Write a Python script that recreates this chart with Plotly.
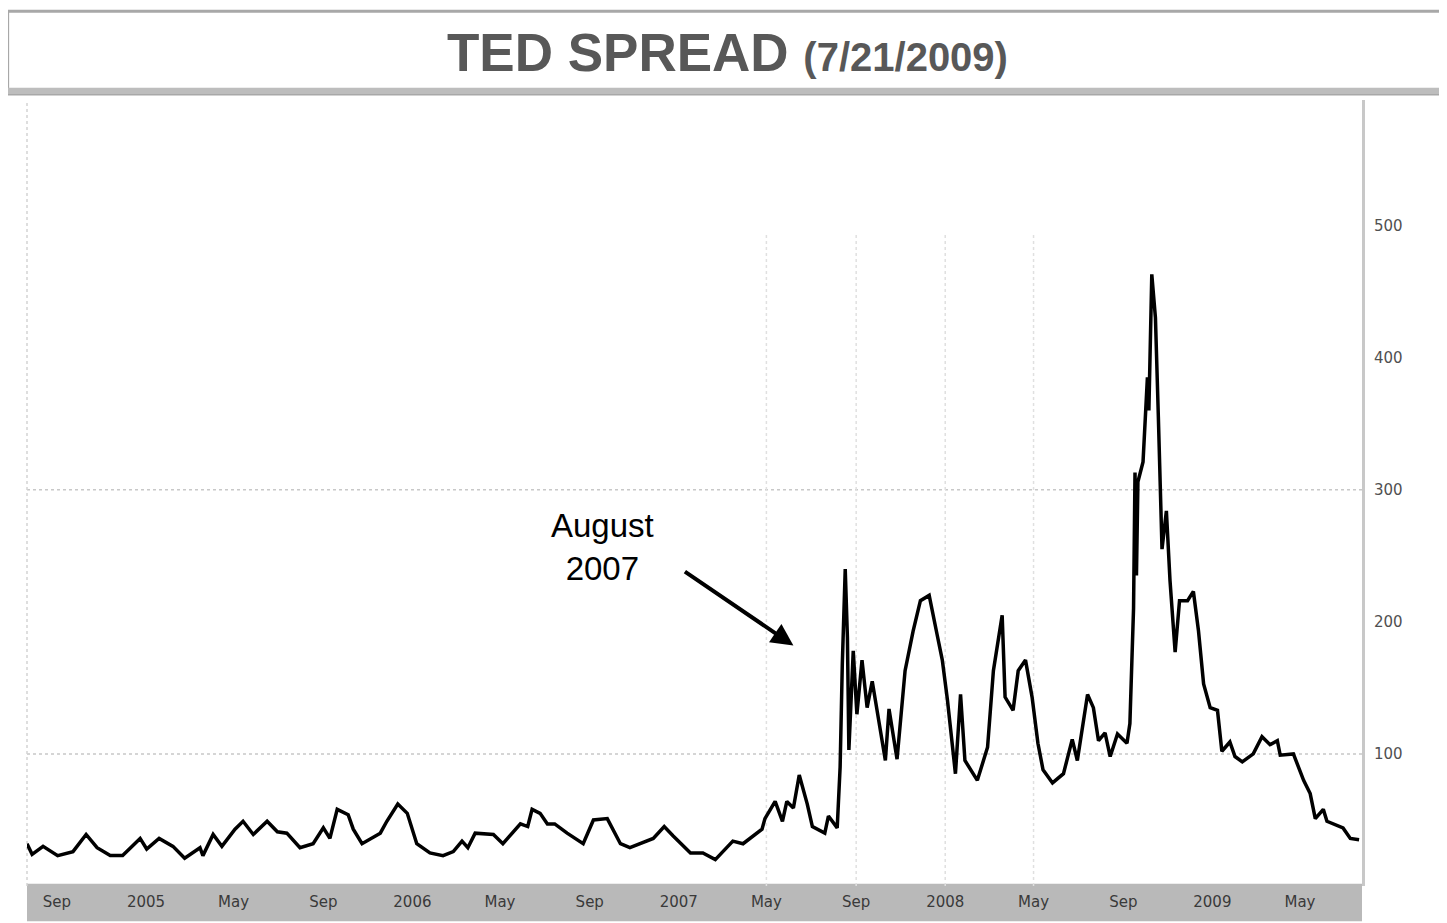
import plotly.graph_objects as go

# TED spread (basis points)
dates = [
    "2004-07-22", "2004-07-29", "2004-08-13", "2004-09-02", "2004-09-23", "2004-10-11",
    "2004-10-26", "2004-11-13", "2004-11-30", "2004-12-24", "2005-01-02", "2005-01-19",
    "2005-02-07", "2005-02-23", "2005-03-16", "2005-03-20", "2005-04-03", "2005-04-15",
    "2005-05-03", "2005-05-14", "2005-05-28", "2005-06-16", "2005-06-30", "2005-07-13",
    "2005-07-31", "2005-08-18", "2005-09-01", "2005-09-10", "2005-09-20", "2005-10-05",
    "2005-10-12", "2005-10-24", "2005-11-18", "2005-11-27", "2005-12-12", "2005-12-25",
    "2006-01-07", "2006-01-25", "2006-02-12", "2006-02-26", "2006-03-10", "2006-03-18",
    "2006-03-28", "2006-04-22", "2006-05-05", "2006-05-29", "2006-06-08", "2006-06-14",
    "2006-06-25", "2006-07-05", "2006-07-15", "2006-08-01", "2006-08-23", "2006-09-06",
    "2006-09-25", "2006-10-13", "2006-10-26", "2006-11-09", "2006-11-27", "2006-12-12",
    "2006-12-24", "2007-01-17", "2007-02-03", "2007-02-20", "2007-03-03", "2007-03-16",
    "2007-03-30", "2007-04-13", "2007-04-25", "2007-04-29", "2007-05-13", "2007-05-23",
    "2007-05-29", "2007-06-07", "2007-06-15", "2007-06-26", "2007-07-03", "2007-07-20",
    "2007-07-25", "2007-08-06", "2007-08-10", "2007-08-13", "2007-08-17", "2007-08-20",
    "2007-08-22", "2007-08-28", "2007-09-02", "2007-09-09", "2007-09-16", "2007-09-23",
    "2007-09-30", "2007-10-11", "2007-10-16", "2007-10-27", "2007-11-07", "2007-11-18",
    "2007-11-28", "2007-12-10", "2007-12-21", "2007-12-28", "2008-01-04", "2008-01-15",
    "2008-01-22", "2008-01-28", "2008-02-14", "2008-02-28", "2008-03-07", "2008-03-19",
    "2008-03-23", "2008-04-03", "2008-04-10", "2008-04-20", "2008-04-29", "2008-05-07",
    "2008-05-14", "2008-05-27", "2008-06-11", "2008-06-23", "2008-06-30", "2008-07-14",
    "2008-07-22", "2008-07-29", "2008-08-07", "2008-08-14", "2008-08-24", "2008-09-06",
    "2008-09-10", "2008-09-15", "2008-09-17", "2008-09-19", "2008-09-21", "2008-09-28",
    "2008-10-04", "2008-10-06", "2008-10-10", "2008-10-15", "2008-10-19", "2008-10-24",
    "2008-10-30", "2008-11-04", "2008-11-11", "2008-11-17", "2008-11-28", "2008-12-06",
    "2008-12-13", "2008-12-20", "2008-12-29", "2009-01-08", "2009-01-14", "2009-01-25",
    "2009-02-01", "2009-02-11", "2009-02-26", "2009-03-10", "2009-03-21", "2009-03-31",
    "2009-04-04", "2009-04-22", "2009-05-06", "2009-05-15", "2009-05-22", "2009-06-02",
    "2009-06-07", "2009-06-29", "2009-07-09", "2009-07-21",
]
spread = [
    32, 24, 30, 23, 26, 39,
    29, 23, 23, 36, 28, 36,
    30, 21, 29, 23, 39, 30,
    43, 49, 39, 49, 41, 40,
    29, 32, 44, 36, 58, 54,
    43, 32, 40, 49, 62, 55,
    32, 25, 23, 26, 34, 29,
    40, 39, 32, 47, 45, 58,
    55, 47, 47, 40, 32, 50,
    51, 32, 29, 32, 36, 45,
    38, 25, 25, 20, 26, 34,
    32, 38, 43, 51, 64, 49,
    64, 59, 84, 62, 45, 40,
    53, 44, 90, 168, 240, 188,
    103, 178, 130, 171, 135, 155,
    130, 95, 134, 96, 163, 193,
    216, 220, 190, 171, 141, 85,
    145, 95, 80, 105, 163, 205,
    143, 133, 163, 171, 143, 108,
    88, 78, 85, 111, 95, 145,
    135, 110, 116, 98, 115, 108,
    123, 210, 313, 235, 306, 321,
    385, 360, 463, 430, 355, 255,
    284, 231, 177, 216, 216, 223,
    193, 153, 135, 133, 102, 109,
    98, 94, 100, 113, 107, 110,
    99, 100, 80, 70, 51, 58,
    49, 44, 36, 35,
]

tick_dates = ["2004-09-01", "2005-01-01", "2005-05-01", "2005-09-01", "2006-01-01",
              "2006-05-01", "2006-09-01", "2007-01-01", "2007-05-01", "2007-09-01",
              "2008-01-01", "2008-05-01", "2008-09-01", "2009-01-01", "2009-05-01"]
tick_text = ["Sep", "2005", "May", "Sep", "2006", "May", "Sep", "2007", "May", "Sep",
             "2008", "May", "Sep", "2009", "May"]
y_ticks = [100, 200, 300, 400, 500]
emph_levels = [100, 300]
vgrid_dates = ["2007-05-01", "2007-09-01", "2008-01-01", "2008-05-01"]

title_main = "TED SPREAD"
title_date = "(7/21/2009)"
note_text = "August<br>2007"
note_point = ("2007-06-07", 182)

fig = go.Figure()
fig.add_trace(go.Scatter(x=dates, y=spread, mode="lines",
                         line=dict(color="black", width=3.5), hoverinfo="x+y"))

shapes = []
# grey date band under the plot
shapes.append(dict(type="rect", xref="paper", yref="paper", x0=0, x1=1,
                   y0=-0.045, y1=0.003, fillcolor="#b9b9b9", line=dict(width=0),
                   layer="below"))
# title box
shapes.append(dict(type="rect", xref="paper", yref="paper", x0=-0.0145, x1=1.0605,
                   y0=1.0075, y1=1.113, fillcolor="white",
                   line=dict(color="#a8a8a8", width=3), layer="below"))
shapes.append(dict(type="rect", xref="paper", yref="paper", x0=-0.0145, x1=1.0605,
                   y0=1.0075, y1=1.0155, fillcolor="#bdbdbd",
                   line=dict(width=0), layer="below"))
for lv in emph_levels:
    shapes.append(dict(type="line", xref="paper", yref="y", x0=0, x1=1, y0=lv, y1=lv,
                       line=dict(color="#c8c8c8", width=1.5, dash="dot"), layer="below"))
for d in vgrid_dates:
    shapes.append(dict(type="line", xref="x", yref="paper", x0=d, x1=d, y0=0, y1=0.83,
                       line=dict(color="#e0e0e0", width=1.5, dash="dot"), layer="below"))
shapes.append(dict(type="line", xref="paper", yref="paper", x0=0, x1=0, y0=0, y1=1,
                   line=dict(color="#d4d4d4", width=1.5, dash="dot"), layer="below"))

annotations = [
    dict(xref="paper", yref="paper", x=0.525, y=1.06, showarrow=False,
         text=f"<b>{title_main}</b> <b><span style='font-size:40px'>{title_date}</span></b>",
         font=dict(family="Liberation Sans, Arial", size=53, color="#585858"),
         xanchor="center", yanchor="middle"),
    dict(x="2006-09-18", y=257, xref="x", yref="y", showarrow=False, text=note_text,
         font=dict(family="Liberation Sans, Arial", size=33, color="black"),
         xanchor="center", yanchor="middle"),
    dict(x=note_point[0], y=note_point[1], xref="x", yref="y", text="",
         showarrow=True, ax=-110, ay=-75, axref="pixel", ayref="pixel",
         arrowhead=2, arrowsize=1.1, arrowwidth=4, arrowcolor="black"),
]

# the page body adds an 8px offset, so the figure is sized 8px smaller
fig.update_layout(
    width=1439, height=915,
    margin=dict(l=19, r=85, t=92, b=30),
    paper_bgcolor="white", plot_bgcolor="rgba(0,0,0,0)",
    showlegend=False,
    shapes=shapes, annotations=annotations,
    xaxis=dict(type="date", range=["2004-07-22", "2009-07-25"],
               tickvals=tick_dates, ticktext=tick_text, showgrid=False, zeroline=False,
               showline=False, ticks="", ticklabelstandoff=5,
               tickfont=dict(family="DejaVu Sans", size=15, color="#3a3a3a")),
    yaxis=dict(side="right", range=[0, 595], tickvals=y_ticks, showgrid=False,
               zeroline=False, showline=True, linecolor="#c8c8c8", linewidth=3,
               ticks="", ticklabelstandoff=6,
               tickfont=dict(family="DejaVu Sans", size=15, color="#505050")),
)

fig.write_html("out.html")
